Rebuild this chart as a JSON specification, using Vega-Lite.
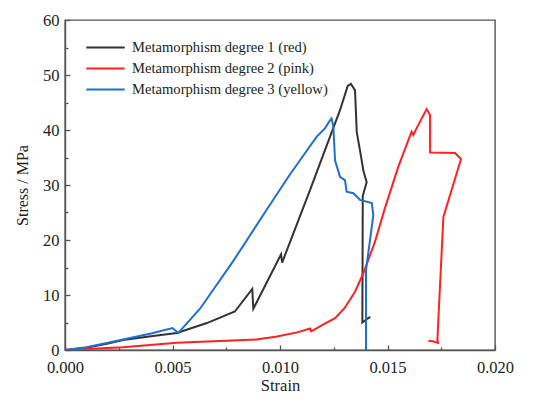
{
  "$schema": "https://vega.github.io/schema/vega-lite/v6.json",
  "width": 430,
  "height": 330,
  "autosize": {"type": "none"},
  "padding": {"left": 65, "top": 20, "right": 55, "bottom": 66},
  "background": "white",
  "config": {
    "view": {"stroke": "#555555", "strokeWidth": 1.4},
    "font": "Liberation Serif"
  },
  "datasets": {
    "curves": [
      {"s": "Metamorphism degree 1 (red)", "i": 1, "x": 0, "y": 0},
      {"s": "Metamorphism degree 1 (red)", "i": 2, "x": 0.001, "y": 0.4},
      {"s": "Metamorphism degree 1 (red)", "i": 3, "x": 0.002, "y": 1.2},
      {"s": "Metamorphism degree 1 (red)", "i": 4, "x": 0.0027, "y": 1.8},
      {"s": "Metamorphism degree 1 (red)", "i": 5, "x": 0.004, "y": 2.5},
      {"s": "Metamorphism degree 1 (red)", "i": 6, "x": 0.0052, "y": 3.1},
      {"s": "Metamorphism degree 1 (red)", "i": 7, "x": 0.0066, "y": 4.9},
      {"s": "Metamorphism degree 1 (red)", "i": 8, "x": 0.0079, "y": 7.0},
      {"s": "Metamorphism degree 1 (red)", "i": 9, "x": 0.00871, "y": 11.1},
      {"s": "Metamorphism degree 1 (red)", "i": 10, "x": 0.00876, "y": 7.5},
      {"s": "Metamorphism degree 1 (red)", "i": 11, "x": 0.01005, "y": 17.4},
      {"s": "Metamorphism degree 1 (red)", "i": 12, "x": 0.0101, "y": 15.9},
      {"s": "Metamorphism degree 1 (red)", "i": 13, "x": 0.0114, "y": 29.1},
      {"s": "Metamorphism degree 1 (red)", "i": 14, "x": 0.01279, "y": 43.6},
      {"s": "Metamorphism degree 1 (red)", "i": 15, "x": 0.01315, "y": 48.0},
      {"s": "Metamorphism degree 1 (red)", "i": 16, "x": 0.0133, "y": 48.4},
      {"s": "Metamorphism degree 1 (red)", "i": 17, "x": 0.01349, "y": 47.2},
      {"s": "Metamorphism degree 1 (red)", "i": 18, "x": 0.01357, "y": 39.6},
      {"s": "Metamorphism degree 1 (red)", "i": 19, "x": 0.01372, "y": 36.3},
      {"s": "Metamorphism degree 1 (red)", "i": 20, "x": 0.01388, "y": 32.6},
      {"s": "Metamorphism degree 1 (red)", "i": 21, "x": 0.01403, "y": 30.5},
      {"s": "Metamorphism degree 1 (red)", "i": 22, "x": 0.01385, "y": 28.0},
      {"s": "Metamorphism degree 1 (red)", "i": 23, "x": 0.01383, "y": 5.0},
      {"s": "Metamorphism degree 1 (red)", "i": 24, "x": 0.0141, "y": 5.8},
      {"s": "Metamorphism degree 1 (red)", "i": 25, "x": 0.0142, "y": 6.0},

      {"s": "Metamorphism degree 2 (pink)", "i": 1, "x": 0, "y": 0},
      {"s": "Metamorphism degree 2 (pink)", "i": 2, "x": 0.0027, "y": 0.5},
      {"s": "Metamorphism degree 2 (pink)", "i": 3, "x": 0.0052, "y": 1.3},
      {"s": "Metamorphism degree 2 (pink)", "i": 4, "x": 0.0075, "y": 1.7},
      {"s": "Metamorphism degree 2 (pink)", "i": 5, "x": 0.0089, "y": 1.9},
      {"s": "Metamorphism degree 2 (pink)", "i": 6, "x": 0.0098, "y": 2.4},
      {"s": "Metamorphism degree 2 (pink)", "i": 7, "x": 0.0108, "y": 3.2},
      {"s": "Metamorphism degree 2 (pink)", "i": 8, "x": 0.0114, "y": 3.9},
      {"s": "Metamorphism degree 2 (pink)", "i": 9, "x": 0.01145, "y": 3.4},
      {"s": "Metamorphism degree 2 (pink)", "i": 10, "x": 0.012, "y": 4.6},
      {"s": "Metamorphism degree 2 (pink)", "i": 11, "x": 0.01256, "y": 5.8},
      {"s": "Metamorphism degree 2 (pink)", "i": 12, "x": 0.013, "y": 7.6},
      {"s": "Metamorphism degree 2 (pink)", "i": 13, "x": 0.01349, "y": 10.6},
      {"s": "Metamorphism degree 2 (pink)", "i": 14, "x": 0.01388, "y": 14.0},
      {"s": "Metamorphism degree 2 (pink)", "i": 15, "x": 0.01442, "y": 19.7},
      {"s": "Metamorphism degree 2 (pink)", "i": 16, "x": 0.01488, "y": 25.8},
      {"s": "Metamorphism degree 2 (pink)", "i": 17, "x": 0.0155, "y": 33.3},
      {"s": "Metamorphism degree 2 (pink)", "i": 18, "x": 0.01612, "y": 39.7},
      {"s": "Metamorphism degree 2 (pink)", "i": 19, "x": 0.0162, "y": 39.1},
      {"s": "Metamorphism degree 2 (pink)", "i": 20, "x": 0.01635, "y": 40.3},
      {"s": "Metamorphism degree 2 (pink)", "i": 21, "x": 0.01682, "y": 43.8},
      {"s": "Metamorphism degree 2 (pink)", "i": 22, "x": 0.01698, "y": 42.7},
      {"s": "Metamorphism degree 2 (pink)", "i": 23, "x": 0.01698, "y": 35.9},
      {"s": "Metamorphism degree 2 (pink)", "i": 24, "x": 0.01814, "y": 35.8},
      {"s": "Metamorphism degree 2 (pink)", "i": 25, "x": 0.01842, "y": 34.7},
      {"s": "Metamorphism degree 2 (pink)", "i": 26, "x": 0.0176, "y": 24.2},
      {"s": "Metamorphism degree 2 (pink)", "i": 27, "x": 0.01741, "y": 9.1},
      {"s": "Metamorphism degree 2 (pink)", "i": 28, "x": 0.01732, "y": 1.8},
      {"s": "Metamorphism degree 2 (pink)", "i": 29, "x": 0.01735, "y": 1.3},
      {"s": "Metamorphism degree 2 (pink)", "i": 30, "x": 0.0171, "y": 1.6},
      {"s": "Metamorphism degree 2 (pink)", "i": 31, "x": 0.0169, "y": 1.7},

      {"s": "Metamorphism degree 3 (yellow)", "i": 1, "x": 0, "y": 0},
      {"s": "Metamorphism degree 3 (yellow)", "i": 2, "x": 0.001, "y": 0.5},
      {"s": "Metamorphism degree 3 (yellow)", "i": 3, "x": 0.002, "y": 1.3},
      {"s": "Metamorphism degree 3 (yellow)", "i": 4, "x": 0.0027, "y": 1.9},
      {"s": "Metamorphism degree 3 (yellow)", "i": 5, "x": 0.004, "y": 3.0},
      {"s": "Metamorphism degree 3 (yellow)", "i": 6, "x": 0.005, "y": 4.0},
      {"s": "Metamorphism degree 3 (yellow)", "i": 7, "x": 0.00527, "y": 3.1},
      {"s": "Metamorphism degree 3 (yellow)", "i": 8, "x": 0.00628, "y": 7.5},
      {"s": "Metamorphism degree 3 (yellow)", "i": 9, "x": 0.00783, "y": 16.2},
      {"s": "Metamorphism degree 3 (yellow)", "i": 10, "x": 0.00938, "y": 25.5},
      {"s": "Metamorphism degree 3 (yellow)", "i": 11, "x": 0.01039, "y": 31.5},
      {"s": "Metamorphism degree 3 (yellow)", "i": 12, "x": 0.01093, "y": 34.5},
      {"s": "Metamorphism degree 3 (yellow)", "i": 13, "x": 0.01171, "y": 38.8},
      {"s": "Metamorphism degree 3 (yellow)", "i": 14, "x": 0.01209, "y": 40.3},
      {"s": "Metamorphism degree 3 (yellow)", "i": 15, "x": 0.0123, "y": 41.6},
      {"s": "Metamorphism degree 3 (yellow)", "i": 16, "x": 0.0124, "y": 42.1},
      {"s": "Metamorphism degree 3 (yellow)", "i": 17, "x": 0.01248, "y": 40.6},
      {"s": "Metamorphism degree 3 (yellow)", "i": 18, "x": 0.01256, "y": 34.5},
      {"s": "Metamorphism degree 3 (yellow)", "i": 19, "x": 0.01279, "y": 31.5},
      {"s": "Metamorphism degree 3 (yellow)", "i": 20, "x": 0.01302, "y": 30.9},
      {"s": "Metamorphism degree 3 (yellow)", "i": 21, "x": 0.0131, "y": 28.8},
      {"s": "Metamorphism degree 3 (yellow)", "i": 22, "x": 0.01341, "y": 28.5},
      {"s": "Metamorphism degree 3 (yellow)", "i": 23, "x": 0.01357, "y": 27.9},
      {"s": "Metamorphism degree 3 (yellow)", "i": 24, "x": 0.01372, "y": 27.3},
      {"s": "Metamorphism degree 3 (yellow)", "i": 25, "x": 0.01427, "y": 26.7},
      {"s": "Metamorphism degree 3 (yellow)", "i": 26, "x": 0.01434, "y": 24.5},
      {"s": "Metamorphism degree 3 (yellow)", "i": 27, "x": 0.0140, "y": 14.5},
      {"s": "Metamorphism degree 3 (yellow)", "i": 28, "x": 0.0140, "y": 0}
    ]
  },
  "data": {"name": "curves"},
  "mark": {"type": "line", "strokeWidth": 2, "clip": true},
  "encoding": {
    "x": {
      "field": "x",
      "type": "quantitative",
      "scale": {"domain": [0, 0.02], "nice": false, "zero": false},
      "axis": {
        "title": "Strain",
        "values": [0, 0.0025, 0.005, 0.0075, 0.01, 0.0125, 0.015, 0.0175, 0.02],
        "labelExpr": "abs(datum.value / 0.005 - round(datum.value / 0.005)) < 0.01 ? format(datum.value, '.3f') : ''",
        "tickSize": {"condition": {"test": "abs(datum.value / 0.005 - round(datum.value / 0.005)) > 0.01", "value": -3}, "value": -5},
        "tickColor": "#555555",
        "tickWidth": 1.3,
        "domainColor": "#555555",
        "domainWidth": 1.4,
        "grid": false,
        "labelFont": "Liberation Serif",
        "labelFontSize": 16.5,
        "labelColor": "#222222",
        "labelPadding": 14,
        "labelFlush": false,
        "titleFont": "Liberation Serif",
        "titleFontSize": 16.5,
        "titleFontWeight": "normal",
        "titleColor": "#222222",
        "titlePadding": 2
      }
    },
    "y": {
      "field": "y",
      "type": "quantitative",
      "scale": {"domain": [0, 60], "nice": false},
      "axis": {
        "title": "Stress / MPa",
        "values": [0, 5, 10, 15, 20, 25, 30, 35, 40, 45, 50, 55, 60],
        "labelExpr": "datum.value % 10 == 0 ? datum.value : ''",
        "tickSize": {"condition": {"test": "datum.value % 10 != 0", "value": -3}, "value": -5},
        "tickColor": "#555555",
        "tickWidth": 1.3,
        "domainColor": "#555555",
        "domainWidth": 1.4,
        "grid": false,
        "labelFont": "Liberation Serif",
        "labelFontSize": 16.5,
        "labelColor": "#222222",
        "labelPadding": 11,
        "labelFlush": false,
        "titleFont": "Liberation Serif",
        "titleFontSize": 16,
        "titleFontWeight": "normal",
        "titleColor": "#222222",
        "titlePadding": 12
      }
    },
    "color": {
      "field": "s",
      "type": "nominal",
      "scale": {
        "domain": ["Metamorphism degree 1 (red)", "Metamorphism degree 2 (pink)", "Metamorphism degree 3 (yellow)"],
        "range": ["#333333", "#ff2222", "#1f6fd0"]
      },
      "legend": {
        "title": null,
        "orient": "none",
        "legendX": 27,
        "legendY": 14,
        "symbolType": "M-1.6,0H1.6",
        "symbolSize": 576,
        "symbolStrokeWidth": 2.2,
        "labelFont": "Liberation Serif",
        "labelFontSize": 14.6,
        "labelColor": "#222222",
        "labelOffset": 13,
        "rowPadding": 0,
        "labelLimit": 400
      }
    },
    "order": {"field": "i"}
  }
}
